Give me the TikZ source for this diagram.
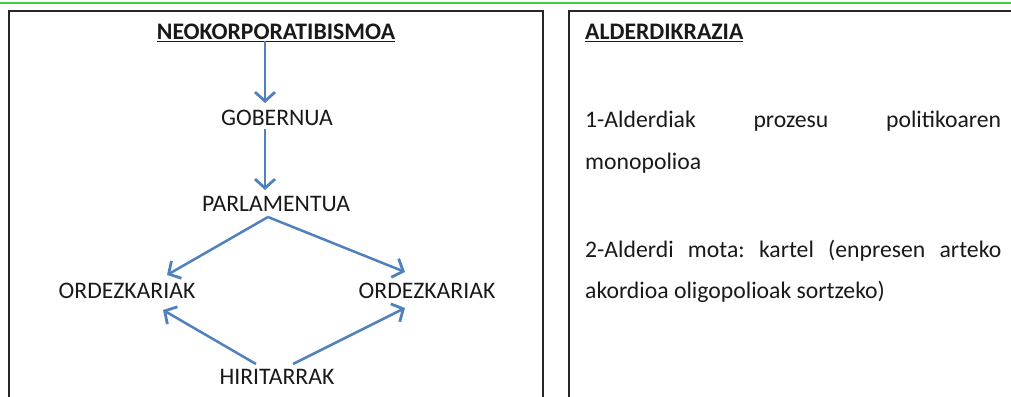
\documentclass[tikz,border=0pt]{standalone}
\usepackage{fontspec}
\setmainfont{Carlito}
\usetikzlibrary{arrows.meta}
\definecolor{arrblue}{RGB}{79,129,189}
\definecolor{topgreen}{RGB}{60,210,60}
\tikzset{
  lbl/.style={inner sep=0pt, anchor=base, font=\fontsize{23.7pt}{28pt}\selectfont, text=black!90},
  rlbl/.style={inner sep=0pt, anchor=base west, font=\fontsize{23.7pt}{28pt}\selectfont, text=black!90},
  arr/.style={draw=arrblue, line width=2.5pt, -{Straight Barb[length=9pt,width=20pt,line width=2.8pt]}},
  frame/.style={draw=black!85, line width=2.2pt}
}
\begin{document}
\frenchspacing
\begin{tikzpicture}[x=1pt,y=-1pt]
\useasboundingbox (0,0) rectangle (1011,396);
\draw[topgreen, line width=1.5pt] (0,3) -- (1011,3);
\draw[frame] (9,400) -- (9,11) -- (543,11) -- (543,400);
\draw[frame] (569,400) -- (569,11) -- (1015,11);
% left diagram
\node[lbl] (neo) at (276,40) {\textbf{\underline{NEOKORPORATIBISMOA}}};
\node[lbl] (gob) at (277,125) {GOBERNUA};
\node[lbl] (parl) at (276,211) {PARLAMENTUA};
\node[lbl] (ordL) at (127,298) {ORDEZKARIAK};
\node[lbl] (ordR) at (427,298) {ORDEZKARIAK};
\node[lbl] (hir) at (277,384) {HIRITARRAK};
\draw[arr] ([shift={(-11,1)}]neo.base) -- ([shift={(-12,-22)}]gob.base);
\draw[arr] ([shift={(-12,4)}]gob.base) -- ([shift={(-11,-21)}]parl.base);
\draw[arr] ([shift={(-8,6)}]parl.base) -- ([shift={(40,-23)}]ordL.base);
\draw[arr] ([shift={(-8,6)}]parl.base) -- ([shift={(-22,-26)}]ordR.base);
\draw[arr] ([shift={(-21,-20)}]hir.base) -- ([shift={(36,12)}]ordL.base);
\draw[arr] ([shift={(16,-20)}]hir.base) -- ([shift={(-22,10)}]ordR.base);
% right text
\node[rlbl] (ald) at (585,40) {\textbf{\underline{ALDERDIKRAZIA}}};
\node[rlbl] (l1) at (585,127) {\makebox[416pt][s]{1-Alderdiak prozesu politikoaren}};
\node[rlbl] (l2) at (585,169) {monopolioa};
\node[rlbl] (l3) at (585,257) {\makebox[416pt][s]{2-Alderdi mota: kartel (enpresen arteko}};
\node[rlbl] (l4) at (585,298) {akordioa oligopolioak sortzeko)};
\end{tikzpicture}
\end{document}
